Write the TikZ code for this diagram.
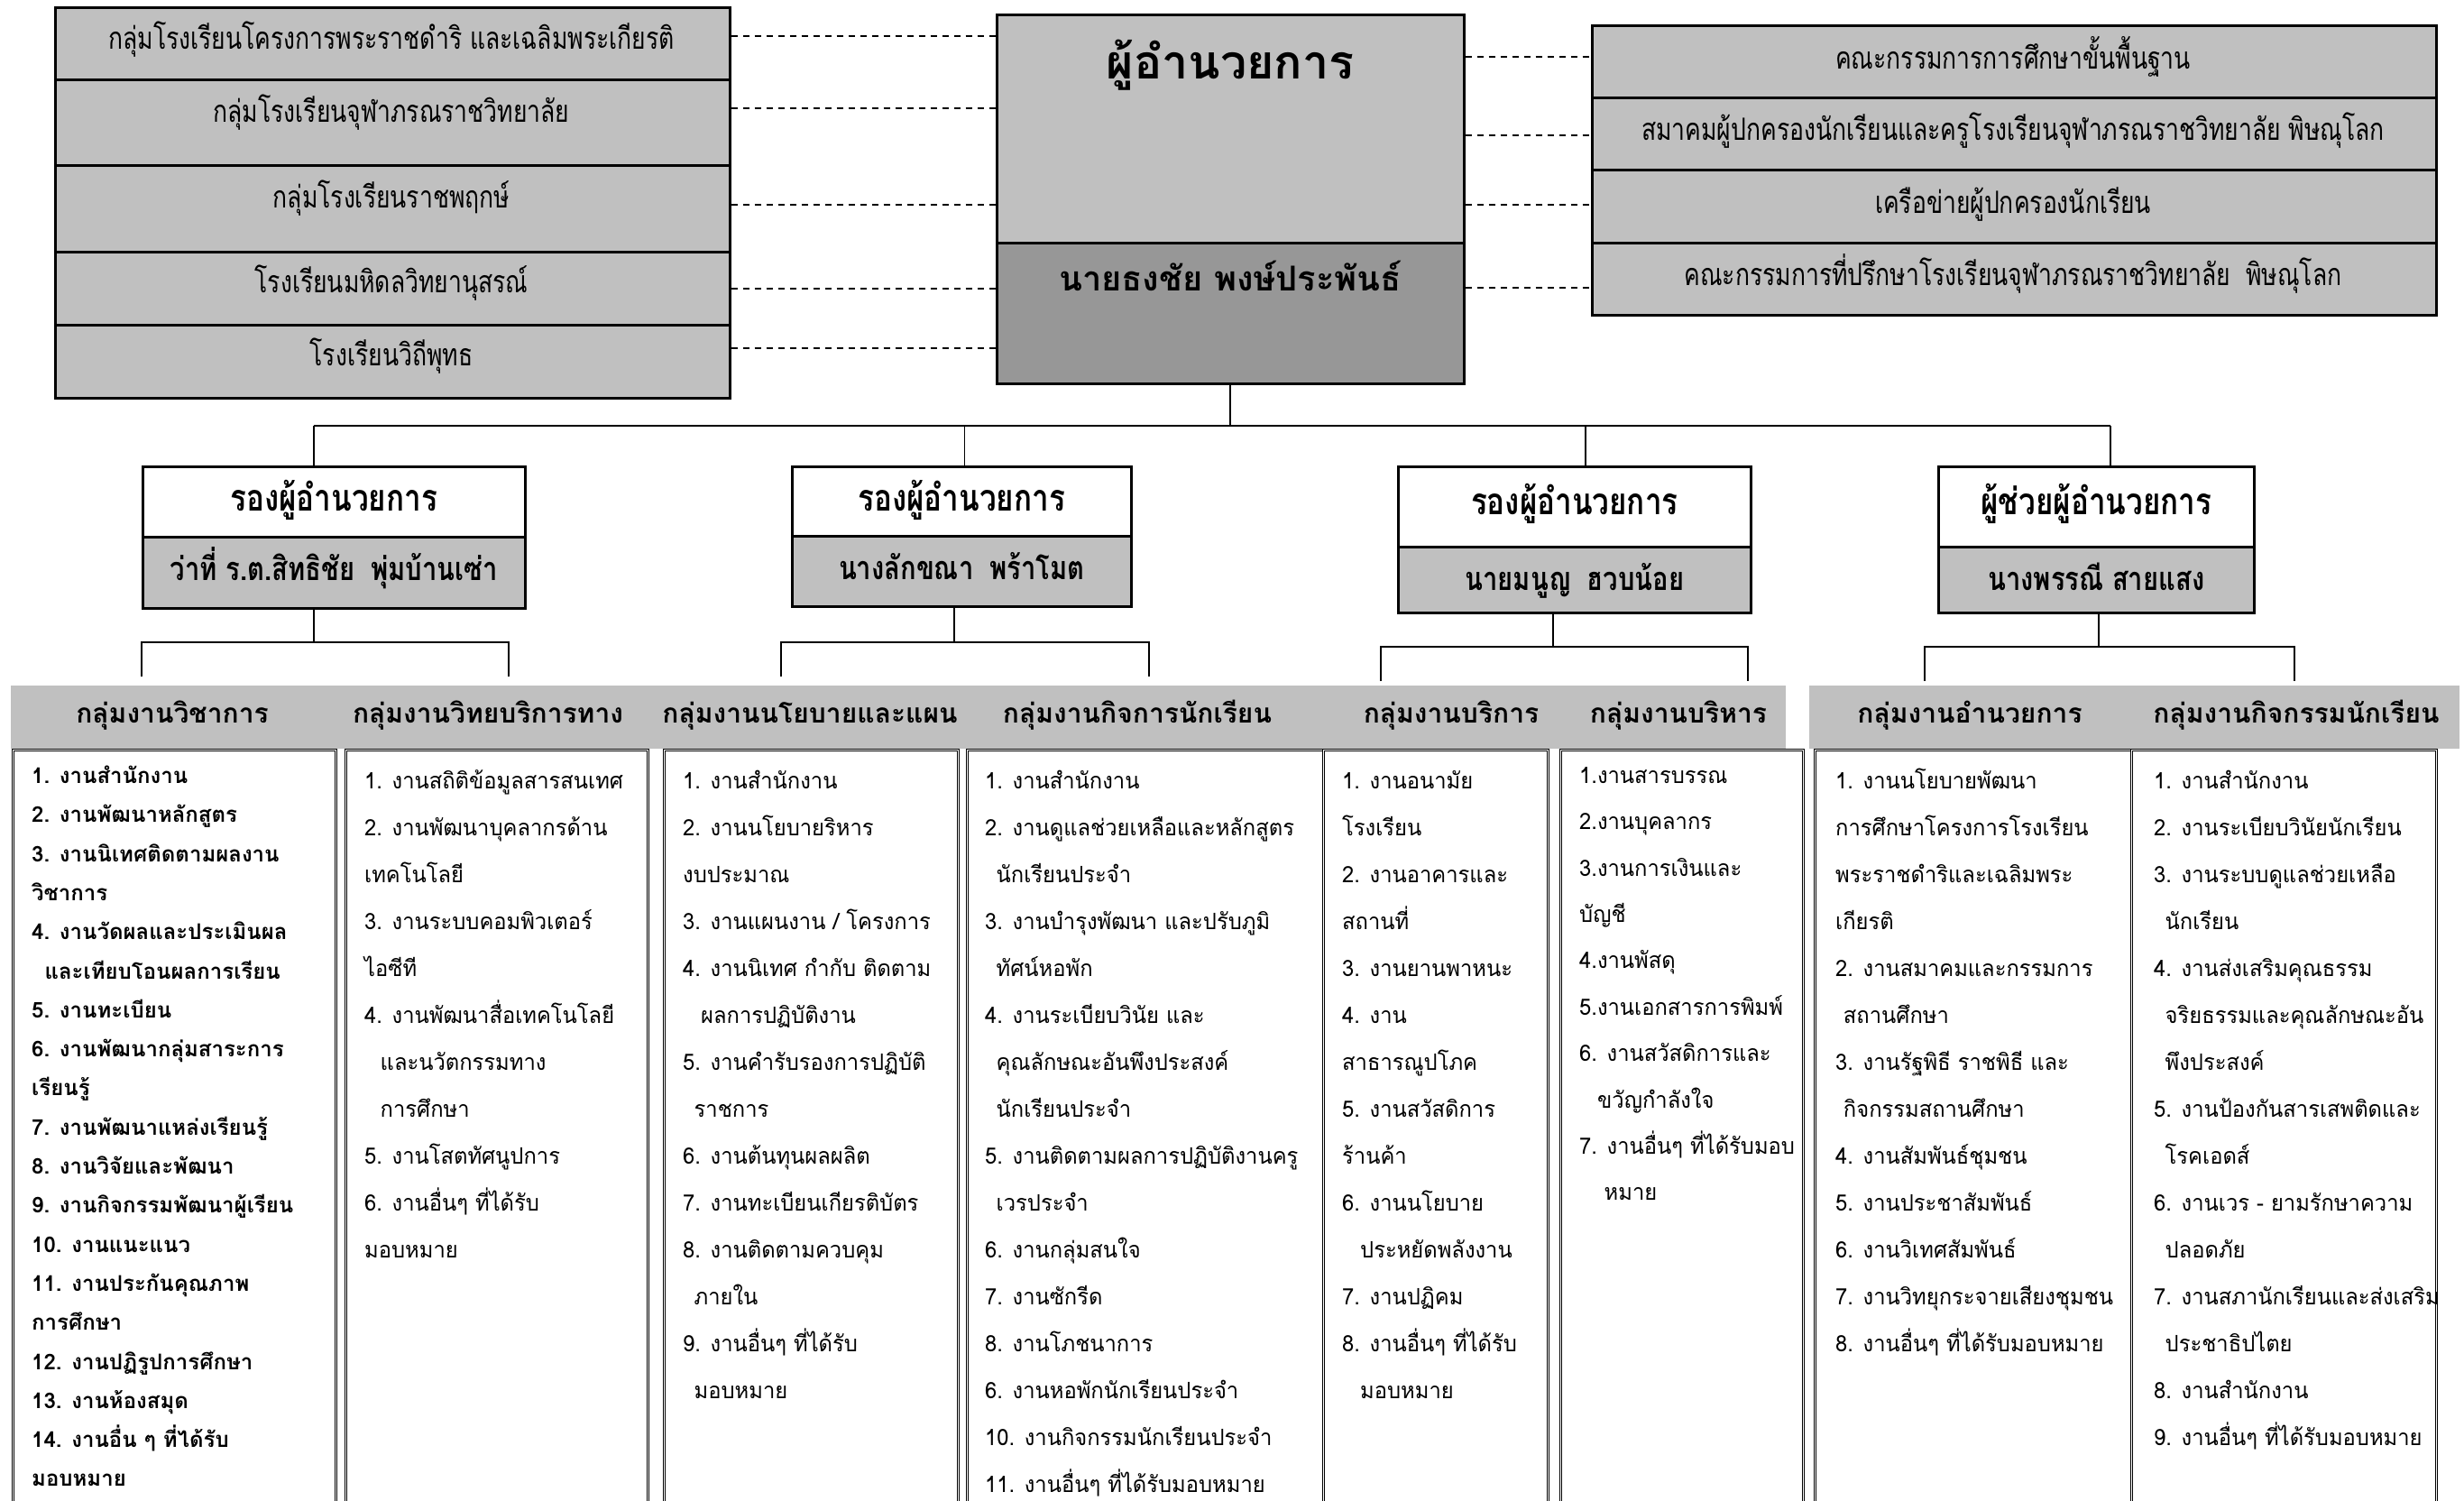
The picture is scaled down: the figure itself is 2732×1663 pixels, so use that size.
\documentclass[tikz,border=0pt]{standalone}
\usepackage{fontspec}
\newfontfamily\thai[Script=Thai]{Loma}
\newfontfamily\thailist[Script=Thai,FakeStretch=0.95]{Loma}
\newfontfamily\thaicond[Script=Thai,FakeStretch=0.78]{Loma}
\newfontfamily\thaideputy[Script=Thai,FakeStretch=0.81]{Loma}
\definecolor{boxgrey}{RGB}{192,192,192}
\definecolor{namegrey}{RGB}{151,151,151}
\tikzset{
  panel/.style={draw=black, line width=2.5pt, fill=boxgrey, inner sep=0pt, anchor=north west},
  namepanel/.style={panel, fill=namegrey},
  titlepanel/.style={panel, fill=white},
  band/.style={fill=boxgrey, draw=none, inner sep=0pt, anchor=north west},
  duty/.style={draw=black, line width=1.1pt, double=white, double distance=1.5pt, fill=white, inner sep=0pt, anchor=north west},
  wire/.style={draw=black, line width=2pt},
  link/.style={draw=black, line width=1.6pt, dash pattern=on 7pt off 6pt},
  unitname/.style={font=\thaicond\fontsize{34}{40}\selectfont, inner sep=0pt, text height=17pt, text depth=0pt},
  headtitle/.style={font=\thai\bfseries\fontsize{52}{60}\selectfont, inner sep=0pt, text height=27pt, text depth=0pt},
  headname/.style={font=\thai\bfseries\fontsize{38}{44}\selectfont, inner sep=0pt, text height=20pt, text depth=0pt},
  deptitle/.style={font=\thaideputy\bfseries\fontsize{41}{48}\selectfont, inner sep=0pt, text height=21pt, text depth=0pt},
  depname/.style={font=\thaideputy\bfseries\fontsize{36}{42}\selectfont, inner sep=0pt, text height=18pt, text depth=0pt},
  grouptitle/.style={font=\thai\bfseries\fontsize{30}{36}\selectfont, inner sep=0pt, text height=15pt, text depth=0pt},
  dutylist/.style={font=\thailist\fontsize{25}{52}\selectfont, align=left, inner sep=0pt, anchor=north west},
}
\begin{document}
\begin{tikzpicture}[x=1pt, y=-1pt]
\useasboundingbox (0,0) rectangle (2732,1663);
\clip (0,0) rectangle (2732,1663);
\fill[white] (0,0) rectangle (2732,1663);

% ---------- affiliated schools (left column) ----------
\node[panel, minimum width=748pt, minimum height=80pt] (sch1) at (60,7) {};
\node[panel, minimum width=748pt, minimum height=95pt] (sch2) at (60,87) {};
\node[panel, minimum width=748pt, minimum height=96pt] (sch3) at (60,182) {};
\node[panel, minimum width=748pt, minimum height=81pt] (sch4) at (60,278) {};
\node[panel, minimum width=748pt, minimum height=81pt] (sch5) at (60,359) {};
\node[unitname] (sch1t) at (434,46) {กลุ่มโรงเรียนโครงการพระราชดำริ และเฉลิมพระเกียรติ};
\node[unitname] (sch2t) at (434,127) {กลุ่มโรงเรียนจุฬาภรณราชวิทยาลัย};
\node[unitname] (sch3t) at (434,222) {กลุ่มโรงเรียนราชพฤกษ์};
\node[unitname] (sch4t) at (434,316) {โรงเรียนมหิดลวิทยานุสรณ์};
\node[unitname] (sch5t) at (434,397) {โรงเรียนวิถีพุทธ};

% ---------- director ----------
\node[panel, minimum width=518pt, minimum height=253pt] (dirtop) at (1104,15) {};
\node[namepanel, minimum width=518pt, minimum height=156pt] (dirbot) at (1104,268) {};
\node[headtitle] (dirtitle) at (1364,74) {ผู้อำนวยการ};
\node[headname] (dirname) at (1364,312) {นายธงชัย พงษ์ประพันธ์};

% ---------- partner bodies (right column) ----------
\node[panel, minimum width=936pt, minimum height=80pt] (org1) at (1764,27) {};
\node[panel, minimum width=936pt, minimum height=80pt] (org2) at (1764,107) {};
\node[panel, minimum width=936pt, minimum height=81pt] (org3) at (1764,187) {};
\node[panel, minimum width=936pt, minimum height=80pt] (org4) at (1764,268) {};
\node[unitname] (org1t) at (2232,68) {คณะกรรมการการศึกษาขั้นพื้นฐาน};
\node[unitname] (org2t) at (2232,147) {สมาคมผู้ปกครองนักเรียนและครูโรงเรียนจุฬาภรณราชวิทยาลัย พิษณุโลก};
\node[unitname] (org3t) at (2232,228) {เครือข่ายผู้ปกครองนักเรียน};
\node[unitname] (org4t) at (2232,308) {คณะกรรมการที่ปรึกษาโรงเรียนจุฬาภรณราชวิทยาลัย\enspace พิษณุโลก};

% ---------- dashed liaison lines ----------
\draw[link] ([yshift=8pt]sch1.east) -- ([yshift=8pt]sch1.east -| dirtop.west);
\draw[link] ([yshift=15.5pt]sch2.east) -- ([yshift=15.5pt]sch2.east -| dirtop.west);
\draw[link] ([yshift=4pt]sch3.east) -- ([yshift=4pt]sch3.east -| dirtop.west);
\draw[link] (sch4.east) -- (sch4.east -| dirbot.west);
\draw[link] ([yshift=14.5pt]sch5.east) -- ([yshift=14.5pt]sch5.east -| dirbot.west);
\draw[link] ([yshift=5pt]org1.west -| dirtop.east) -- ([yshift=5pt]org1.west);
\draw[link] ([yshift=-2pt]org2.west -| dirtop.east) -- ([yshift=-2pt]org2.west);
\draw[link] ([yshift=1.5pt]org3.west -| dirtop.east) -- ([yshift=1.5pt]org3.west);
\draw[link] ([yshift=-10pt]org4.west -| dirbot.east) -- ([yshift=-10pt]org4.west);

% ---------- deputies ----------
\node[titlepanel, minimum width=424pt, minimum height=78pt] (dep1top) at (157,516) {};
\node[panel, minimum width=424pt, minimum height=79pt] (dep1bot) at (157,594) {};
\node[titlepanel, minimum width=376pt, minimum height=77pt] (dep2top) at (877,516) {};
\node[panel, minimum width=376pt, minimum height=78pt] (dep2bot) at (877,593) {};
\node[titlepanel, minimum width=391pt, minimum height=89pt] (dep3top) at (1549,516) {};
\node[panel, minimum width=391pt, minimum height=73pt] (dep3bot) at (1549,605) {};
\node[titlepanel, minimum width=350pt, minimum height=89pt] (asttop) at (2148,516) {};
\node[panel, minimum width=350pt, minimum height=73pt] (astbot) at (2148,605) {};

\node[deptitle] (dep1title) at (dep1top.center) {รองผู้อำนวยการ};
\node[depname] (dep1name) at (dep1bot.center) {ว่าที่ ร.ต.สิทธิชัย\enspace พุ่มบ้านเซ่า};
\node[deptitle] (dep2title) at (dep2top.center) {รองผู้อำนวยการ};
\node[depname] (dep2name) at (dep2bot.center) {นางลักขณา\enspace พร้าโมต};
\node[deptitle] (dep3title) at ([yshift=2pt]dep3top.center) {รองผู้อำนวยการ};
\node[depname] (dep3name) at ([yshift=-3pt]dep3bot.center) {นายมนูญ\enspace ฮวบน้อย};
\node[deptitle] (asttitle) at ([yshift=2pt]asttop.center) {ผู้ช่วยผู้อำนวยการ};
\node[depname] (astname) at ([yshift=-3pt]astbot.center) {นางพรรณี สายแสง};

% ---------- main bus ----------
\coordinate (busW) at (348,472);
\coordinate (busE) at (2340,472);
\draw[wire] (dirbot.south) -- (dirbot.south |- busW);
\draw[wire, line width=2.6pt] (busW) -- (busE);
\draw[wire, line width=1.5pt] (busW) -- (busW |- dep1top.north);
\draw[wire, line width=1.5pt] ([xshift=3pt]dep2top.north |- busW) -- ([xshift=3pt]dep2top.north);
\draw[wire, line width=1.5pt] ([xshift=12pt]dep3top.north |- busW) -- ([xshift=12pt]dep3top.north);
\draw[wire] (busE) -- (busE |- asttop.north);

% ---------- branches to the work groups ----------
\coordinate (j1) at (348,712);   \coordinate (g1a) at (157,750);  \coordinate (g1b) at (564,750);
\coordinate (j2) at (1058,712);  \coordinate (g2a) at (866,750);  \coordinate (g2b) at (1274,750);
\coordinate (j3) at (1722,717);  \coordinate (g3a) at (1531,755); \coordinate (g3b) at (1938,755);
\coordinate (j4) at (2327,717);  \coordinate (g4a) at (2134,755); \coordinate (g4b) at (2544,755);
\draw[wire, line width=1.5pt] (j1 |- dep1bot.south) -- (j1);
\draw[wire] (g1a) |- (j1) -| (g1b);
\draw[wire, line width=1.5pt] (j2 |- dep2bot.south) -- (j2);
\draw[wire] (g2a) |- (j2) -| (g2b);
\draw[wire, line width=1.5pt] (j3 |- dep3bot.south) -- (j3);
\draw[wire] (g3a) |- (j3) -| (g3b);
\draw[wire, line width=1.5pt] (j4 |- astbot.south) -- (j4);
\draw[wire] (g4a) |- (j4) -| (g4b);

% ---------- work-group header bands ----------
\node[band, minimum width=1968pt, minimum height=70pt] (bandA) at (12,760) {};
\node[band, minimum width=721pt, minimum height=70pt] (bandB) at (2006,760) {};

% ---------- duty frames ----------
\node[duty, minimum width=358pt, minimum height=870pt] (col1) at (14,831) {};
\node[duty, minimum width=335pt, minimum height=870pt] (col2) at (383,831) {};
\node[duty, minimum width=326pt, minimum height=870pt] (col3) at (736,831) {};
\node[duty, minimum width=395pt, minimum height=870pt] (col4) at (1072,831) {};
\node[duty, minimum width=249pt, minimum height=870pt] (col5) at (1467,831) {};
\node[duty, minimum width=269pt, minimum height=870pt] (col6) at (1730,831) {};
\node[duty, minimum width=351pt, minimum height=870pt] (col7) at (2012,831) {};
\node[duty, minimum width=338pt, minimum height=870pt] (col8) at (2363,831) {};

\node[grouptitle] (hdr1) at (191,794) {กลุ่มงานวิชาการ};
\node[grouptitle] (hdr2) at (541,794) {กลุ่มงานวิทยบริการทาง};
\node[grouptitle] (hdr3) at (898,794) {กลุ่มงานนโยบายและแผน};
\node[grouptitle] (hdr4) at (1261,794) {กลุ่มงานกิจการนักเรียน};
\node[grouptitle] (hdr5) at (1609,794) {กลุ่มงานบริการ};
\node[grouptitle] (hdr6) at (1861,794) {กลุ่มงานบริหาร};
\node[grouptitle] (hdr7) at (2184,794) {กลุ่มงานอำนวยการ};
\node[grouptitle] (hdr8) at (2546,794) {กลุ่มงานกิจกรรมนักเรียน};

% ---------- duty lists ----------
\node[dutylist, font=\thai\bfseries\fontsize{24}{43.3}\selectfont] (list1) at (35,838) {\strut 1. งานสำนักงาน\\
2. งานพัฒนาหลักสูตร\\
3. งานนิเทศติดตามผลงาน\\
วิชาการ\\
4. งานวัดผลและประเมินผล\\
\hspace*{0.6em}และเทียบโอนผลการเรียน\\
5. งานทะเบียน\\
6. งานพัฒนากลุ่มสาระการ\\
เรียนรู้\\
7. งานพัฒนาแหล่งเรียนรู้\\
8. งานวิจัยและพัฒนา\\
9. งานกิจกรรมพัฒนาผู้เรียน\\
10. งานแนะแนว\\
11. งานประกันคุณภาพ\\
การศึกษา\\
12. งานปฏิรูปการศึกษา\\
13. งานห้องสมุด\\
14. งานอื่น ๆ ที่ได้รับ\\
มอบหมาย};

\node[dutylist] (list2) at (404,838) {\strut 1. งานสถิติข้อมูลสารสนเทศ\\
2. งานพัฒนาบุคลากรด้าน\\
เทคโนโลยี\\
3. งานระบบคอมพิวเตอร์\\
ไอซีที\\
4. งานพัฒนาสื่อเทคโนโลยี\\
\hspace*{0.7em}และนวัตกรรมทาง\\
\hspace*{0.7em}การศึกษา\\
5. งานโสตทัศนูปการ\\
6. งานอื่นๆ ที่ได้รับ\\
มอบหมาย};

\node[dutylist] (list3) at (757,838) {\strut 1. งานสำนักงาน\\
2. งานนโยบายริหาร\\
งบประมาณ\\
3. งานแผนงาน / โครงการ\\
4. งานนิเทศ กำกับ ติดตาม\\
\hspace*{0.8em}ผลการปฏิบัติงาน\\
5. งานคำรับรองการปฏิบัติ\\
\hspace*{0.5em}ราชการ\\
6. งานต้นทุนผลผลิต\\
7. งานทะเบียนเกียรติบัตร\\
8. งานติดตามควบคุม\\
\hspace*{0.5em}ภายใน\\
9. งานอื่นๆ ที่ได้รับ\\
\hspace*{0.5em}มอบหมาย};

\node[dutylist] (list4) at (1092,838) {\strut 1. งานสำนักงาน\\
2. งานดูแลช่วยเหลือและหลักสูตร\\
\hspace*{0.5em}นักเรียนประจำ\\
3. งานบำรุงพัฒนา และปรับภูมิ\\
\hspace*{0.5em}ทัศน์หอพัก\\
4. งานระเบียบวินัย และ\\
\hspace*{0.5em}คุณลักษณะอันพึงประสงค์\\
\hspace*{0.5em}นักเรียนประจำ\\
5. งานติดตามผลการปฏิบัติงานครู\\
\hspace*{0.5em}เวรประจำ\\
6. งานกลุ่มสนใจ\\
7. งานซักรีด\\
8. งานโภชนาการ\\
6. งานหอพักนักเรียนประจำ\\
10. งานกิจกรรมนักเรียนประจำ\\
11. งานอื่นๆ ที่ได้รับมอบหมาย};

\node[dutylist] (list5) at (1488,838) {\strut 1. งานอนามัย\\
โรงเรียน\\
2. งานอาคารและ\\
สถานที่\\
3. งานยานพาหนะ\\
4. งาน\\
สาธารณูปโภค\\
5. งานสวัสดิการ\\
ร้านค้า\\
6. งานนโยบาย\\
\hspace*{0.8em}ประหยัดพลังงาน\\
7. งานปฏิคม\\
8. งานอื่นๆ ที่ได้รับ\\
\hspace*{0.8em}มอบหมาย};

\node[dutylist, font=\thailist\fontsize{25}{51.4}\selectfont] (list6) at (1751,832) {\strut 1.งานสารบรรณ\\
2.งานบุคลากร\\
3.งานการเงินและ\\
บัญชี\\
4.งานพัสดุ\\
5.งานเอกสารการพิมพ์\\
6. งานสวัสดิการและ\\
\hspace*{0.8em}ขวัญกำลังใจ\\
7. งานอื่นๆ ที่ได้รับมอบ\\
\hspace*{1.1em}หมาย};

\node[dutylist] (list7) at (2035,838) {\strut 1. งานนโยบายพัฒนา\\
การศึกษาโครงการโรงเรียน\\
พระราชดำริและเฉลิมพระ\\
เกียรติ\\
2. งานสมาคมและกรรมการ\\
\hspace*{0.35em}สถานศึกษา\\
3. งานรัฐพิธี ราชพิธี และ\\
\hspace*{0.35em}กิจกรรมสถานศึกษา\\
4. งานสัมพันธ์ชุมชน\\
5. งานประชาสัมพันธ์\\
6. งานวิเทศสัมพันธ์\\
7. งานวิทยุกระจายเสียงชุมชน\\
8. งานอื่นๆ ที่ได้รับมอบหมาย};

\node[dutylist] (list8) at (2388,838) {\strut 1. งานสำนักงาน\\
2. งานระเบียบวินัยนักเรียน\\
3. งานระบบดูแลช่วยเหลือ\\
\hspace*{0.5em}นักเรียน\\
4. งานส่งเสริมคุณธรรม\\
\hspace*{0.5em}จริยธรรมและคุณลักษณะอัน\\
\hspace*{0.5em}พึงประสงค์\\
5. งานป้องกันสารเสพติดและ\\
\hspace*{0.5em}โรคเอดส์\\
6. งานเวร - ยามรักษาความ\\
\hspace*{0.5em}ปลอดภัย\\
7. งานสภานักเรียนและส่งเสริม\\
\hspace*{0.5em}ประชาธิปไตย\\
8. งานสำนักงาน\\
9. งานอื่นๆ ที่ได้รับมอบหมาย};
\end{tikzpicture}
\end{document}
